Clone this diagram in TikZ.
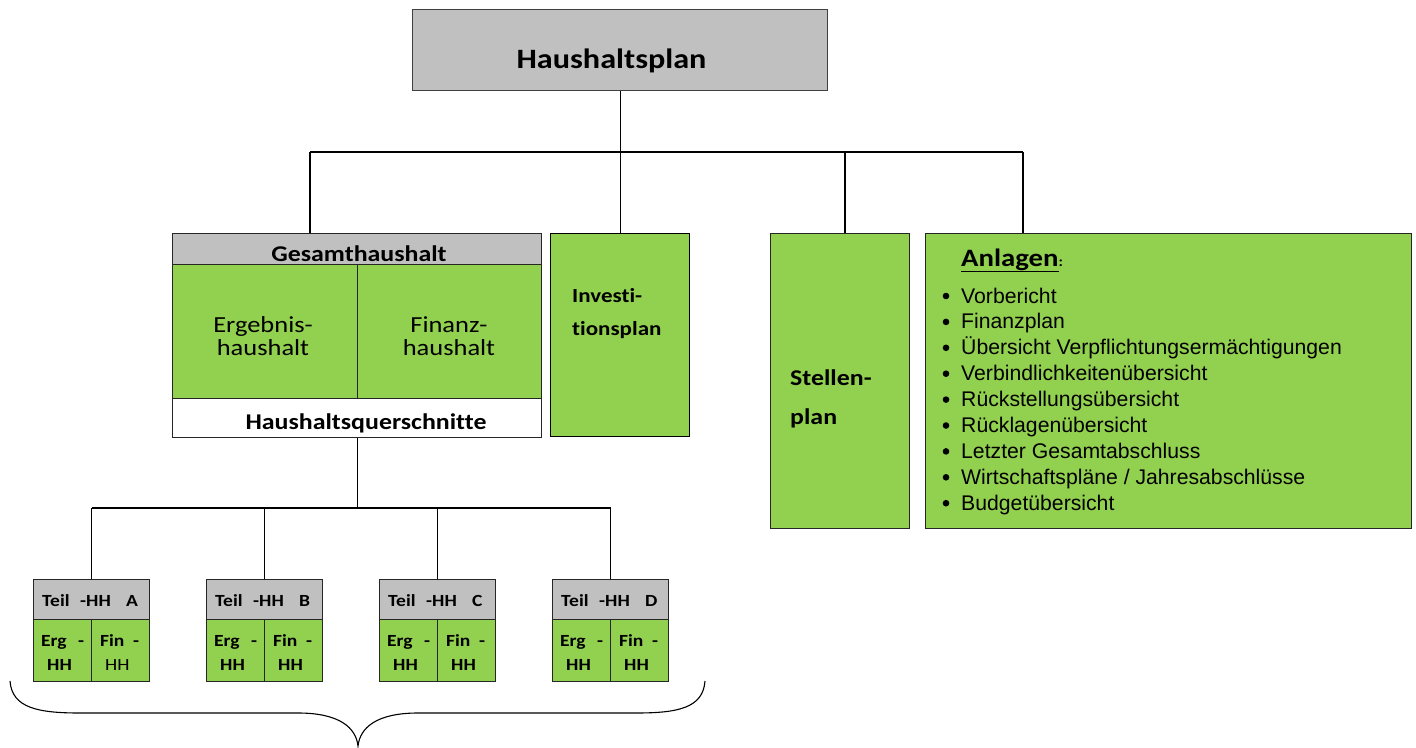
\documentclass[tikz,border=0pt]{standalone}
\usepackage{fontspec}
\setmainfont{Liberation Sans}
\newfontfamily\calfont[FakeStretch=1.15,Ligatures=NoCommon]{Carlito}
\definecolor{grn}{HTML}{92D050}
\definecolor{gry}{HTML}{C0C0C0}
\tikzset{
  bx/.style={draw=black!85, line width=1.4pt, anchor=north west, inner sep=0pt, minimum width=#1},
  gbx/.style={bx=#1, fill=gry},
  nbx/.style={bx=#1, fill=grn},
  conn/.style={draw=black, line width=1.05pt},
  tx/.style={inner sep=0pt, anchor=base west},
  ctx/.style={inner sep=0pt, anchor=base},
}
\begin{document}
\begin{tikzpicture}[x=1pt,y=-1pt]
\useasboundingbox (0,0) rectangle (1416,747);
% top box
\node[gbx=415, minimum height=81, draw=black!75] (hp) at (412,9) {};
\node[ctx, font=\calfont\bfseries\fontsize{28}{32}\selectfont] (hpt) at (611.5,68) {Haushaltsplan};
% Gesamthaushalt
\node[gbx=369, minimum height=31] (gt) at (172,233) {};
\node[nbx=184.5, minimum height=134] (ge) at (172,264) {};
\node[nbx=184.5, minimum height=134] (gf) at (356.5,264) {};
\node[bx=369, minimum height=39, fill=white] (gq) at (172,398) {};
\node[ctx, font=\calfont\bfseries\fontsize{22.5}{26}\selectfont] (gtt) at (359,261) {Gesamthaushalt};
\node[ctx, font=\calfont\fontsize{23}{27}\selectfont] (get1) at (263,332) {Ergebnis-};
\node[ctx, font=\calfont\fontsize{23}{27}\selectfont] (get2) at (263,355) {haushalt};
\node[ctx, font=\calfont\fontsize{23}{27}\selectfont] (gft1) at (449,332) {Finanz-};
\node[ctx, font=\calfont\fontsize{23}{27}\selectfont] (gft2) at (449,355) {haushalt};
\node[ctx, font=\calfont\bfseries\fontsize{22.5}{26}\selectfont] (gqt) at (366,429) {Haushaltsquerschnitte};
% Investitionsplan
\node[nbx=139, minimum height=203, draw=black] (inv) at (550,233) {};
\node[tx, font=\calfont\bfseries\fontsize{20}{24}\selectfont] (inv1) at (572,302) {Investi-};
\node[tx, font=\calfont\bfseries\fontsize{20}{24}\selectfont] (inv2) at (572,335) {tionsplan};
% Stellenplan
\node[nbx=139, minimum height=295] (st) at (770,233) {};
\node[tx, font=\calfont\bfseries\fontsize{22.5}{26}\selectfont] (st1) at (790,385) {Stellen-};
\node[tx, font=\calfont\bfseries\fontsize{22.5}{26}\selectfont] (st2) at (790,424) {plan};
% Anlagen
\node[nbx=486, minimum height=295] (an) at (925,233) {};
\node[tx, font=\calfont\bfseries\fontsize{25}{29}\selectfont] (ant) at (961,266) {\underline{Anlagen}\fontsize{14}{16}\selectfont:};
\foreach \t [count=\i] in {Vorbericht,Finanzplan,Übersicht Verpflichtungsermächtigungen,Verbindlichkeitenübersicht,Rückstellungsübersicht,Rücklagenübersicht,Letzter Gesamtabschluss,Wirtschaftspläne / Jahresabschlüsse,Budgetübersicht}{
  \pgfmathsetmacro{\yy}{303+(\i-1)*25.9}
  \node[tx, font=\fontsize{21.2}{24}\selectfont] (li\i) at (961,\yy) {\t};
  \fill (946,\yy-7) circle (3.3);
}
% upper connectors
\coordinate (b1) at (310,152);
\coordinate (b4) at (845,152);
\coordinate (b5) at (1023,152);
\draw[conn] (b1) -- (b5);
\draw[conn] (hp.south) -- (hp.south |- b1);
\draw[conn] (b1) -- (b1 |- gt.north);
\draw[conn] (inv.north) -- (inv.north |- b1);
\draw[conn] (b4) -- (b4 |- st.north);
\draw[conn] (b5) -- (b5 |- an.north);
% Teil-HH boxes
\foreach \L/\n/\w in {33/A/\fontseries{m}\selectfont,206/B/,379/C/,552/D/}{
  \node[gbx=116, minimum height=40] (t\n) at (\L,579) {};
  \node[nbx=58, minimum height=62] (e\n) at (\L,619) {};
  \node[nbx=58, minimum height=62] (f\n) at (\L+58,619) {};
  \begin{scope}[every node/.style={tx, font=\calfont\bfseries\fontsize{17}{20}\selectfont}]
    \node (tt\n) at (\L+9,606) {Teil};
    \node (th\n) at (\L+47,606) {-HH};
    \node (tl\n) at (\L+93,606) {\n};
    \node (ea\n) at (\L+8,646) {Erg};
    \node (eb\n) at (\L+45,646) {-};
    \node (ec\n) at (\L+14,670) {HH};
    \node (fa\n) at (\L+67,646) {Fin};
    \node (fb\n) at (\L+100,646) {-};
    \node (fc\n) at (\L+72,670) {\w HH};
  \end{scope}
}
% lower connectors
\coordinate (c0) at (gq.south |- 0,508);
\draw[conn] (gq.south) -- (c0);
\draw[conn] (tA.north |- c0) -- (tD.north |- c0);
\foreach \n in {A,B,C,D}{
  \draw[conn] (t\n.north) -- (t\n.north |- c0);
}
% brace
\coordinate (brl) at (10,681);
\coordinate (brt) at (358,746);
\coordinate (brr) at (705,681);
\draw[line width=1.1pt] (brl) .. controls (12,708) and (38,713) .. (80,713) -- (298,713)
  .. controls (340,713) and (356,728) .. (brt)
  .. controls (360,728) and (376,713) .. (418,713) -- (636,713)
  .. controls (678,713) and (703,708) .. (brr);
\end{tikzpicture}
\end{document}
